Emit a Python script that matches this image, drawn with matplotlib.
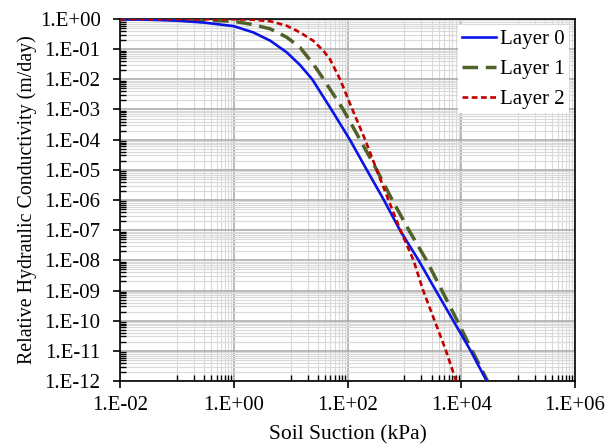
import matplotlib
matplotlib.use("Agg")
import matplotlib.pyplot as plt
from matplotlib.ticker import FixedLocator, NullFormatter, FixedFormatter

# ---- data ----
layer0_x = [0.01, 0.03, 0.1, 0.3, 1, 2.2, 4.4, 8.5, 14.6, 24, 52, 110, 218, 436, 835,
            1780, 3570, 7250, 14650, 28000]
layer0_y = [0.98, 0.95, 0.88, 0.76, 0.58, 0.36, 0.19, 0.079, 0.03, 1e-2, 1e-3, 1e-4, 1e-5,
            1e-6, 1e-7, 1e-8, 1e-9, 1e-10, 1e-11, 1e-12]

layer1_x = [0.01, 0.1, 0.3, 1, 2.2, 4.4, 8.5, 14.6, 25, 33, 38, 84, 166, 326, 612, 1200,
            2450, 4570, 8500, 15600, 29000]
layer1_y = [1.0, 0.97, 0.92, 0.84, 0.65, 0.47, 0.25, 0.115, 0.032, 0.015, 1e-2, 1e-3, 1e-4, 1e-5,
            1e-6, 1e-7, 1e-8, 1e-9, 1e-10, 1e-11, 1e-12]

layer2_x = [0.01, 1, 2.2, 4.4, 8.5, 14.6, 25, 37.6, 49, 74, 122, 204, 326, 525, 850,
            1450, 2140, 3400, 5400, 8100]
layer2_y = [1.0, 0.98, 0.95, 0.84, 0.6, 0.36, 0.19, 0.089, 0.047, 1e-2, 1e-3, 1e-4, 1e-5, 1e-6,
            1e-7, 1e-8, 1e-9, 1e-10, 1e-11, 1e-12]

series_labels = ["Layer 0", "Layer 1", "Layer 2"]
x_ticks = [1e-2, 1e0, 1e2, 1e4, 1e6]
x_tick_labels = ["1.E-02", "1.E+00", "1.E+02", "1.E+04", "1.E+06"]
y_ticks = [10.0 ** e for e in range(-12, 1)]
y_tick_labels = ["1.E-12", "1.E-11", "1.E-10", "1.E-09", "1.E-08", "1.E-07", "1.E-06",
                 "1.E-05", "1.E-04", "1.E-03", "1.E-02", "1.E-01", "1.E+00"]
x_label = "Soil Suction (kPa)"
y_label = "Relative Hydraulic Conductivity (m/day)"

# ---- figure ----
plt.rcParams['font.family'] = ['Liberation Serif', 'DejaVu Serif']
fig = plt.figure(figsize=(6.13, 4.44), dpi=100)
ax = fig.add_axes([120 / 613, 1 - 381 / 444, 455 / 613, 362 / 444])

ax.set_xscale('log')
ax.set_yscale('log')
ax.set_xlim(1e-2, 1e6)
ax.set_ylim(1e-12, 1e0)

ax.plot(layer0_x, layer0_y, color='#0a14e6', lw=1.9, label=series_labels[0], zorder=5)
ax.plot(layer1_x, layer1_y, color='#4f6228', lw=2.5, dashes=(4.5, 2.2), label=series_labels[1], zorder=4)
ax.plot(layer2_x, layer2_y, color='#c00000', lw=1.9, dashes=(2.2, 1.3), label=series_labels[2], zorder=6)

# ticks
ax.xaxis.set_major_locator(FixedLocator(x_ticks))
ax.xaxis.set_major_formatter(FixedFormatter(x_tick_labels))
x_minor = [k * 10.0 ** e for e in (-1, 1, 3, 5) for k in range(1, 10)]
ax.xaxis.set_minor_locator(FixedLocator(x_minor))
ax.xaxis.set_minor_formatter(NullFormatter())

ax.yaxis.set_major_locator(FixedLocator(y_ticks))
ax.yaxis.set_major_formatter(FixedFormatter(y_tick_labels))
y_minor = [k * 10.0 ** e for e in range(-12, 0) for k in range(2, 10)]
ax.yaxis.set_minor_locator(FixedLocator(y_minor))
ax.yaxis.set_minor_formatter(NullFormatter())

ax.tick_params(which='major', direction='out', length=5, width=1.2, labelsize=15)
ax.tick_params(axis='y', which='major', pad=9)
ax.tick_params(axis='x', which='major', pad=6)
ax.tick_params(which='minor', direction='in', length=4, width=1.0)

ax.grid(which='major', color='#a6a6a6', lw=1.1)
ax.grid(which='minor', color='#d9d9d9', lw=0.8)
ax.set_axisbelow(True)

for s in ax.spines.values():
    s.set_color('black')
    s.set_linewidth(1.2)

ax.set_xlabel(x_label, fontsize=15.5, labelpad=7)
ax.set_ylabel(y_label, fontsize=14.3, labelpad=2)

leg = ax.legend(loc='upper right', fontsize=15, frameon=True, framealpha=1, facecolor='white',
                edgecolor='none', fancybox=False, handlelength=1.6, handletextpad=0.2,
                labelspacing=0.5, borderpad=0.2, borderaxespad=0.3)

fig.savefig('out.png', dpi=100)
